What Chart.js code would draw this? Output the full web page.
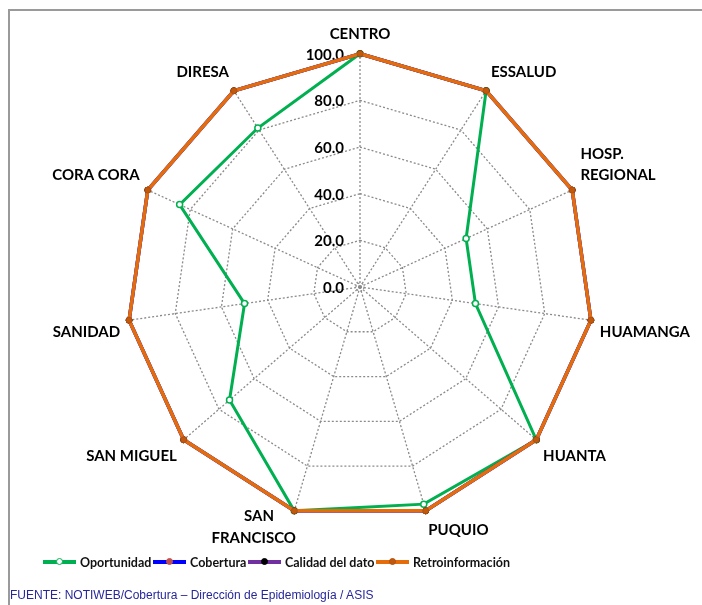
<!DOCTYPE html>
<html>
<head>
<meta charset="utf-8">
<script src="https://cdn.jsdelivr.net/npm/chart.js@4.4.1/dist/chart.umd.min.js"></script>
<style>
  body { margin: 0; background: #fff; width: 702px; height: 605px; overflow: hidden; position: relative; }
  #frame { position: absolute; left: 8px; top: 9px; width: 720px; height: 620px; border-top: 2px solid #9a9a9a; border-left: 2px solid #9a9a9a; }
  #wrap { position: absolute; left: 0; top: 0; width: 702px; height: 590px; }
  .leg { position: absolute; top: 553px; height: 18px; display: flex; align-items: center; font: bold 12.5px Lato, sans-serif; color: #111; white-space: nowrap; }
  .sw { position: relative; width: 33px; height: 4px; margin-right: 4px; }
  .sw i { position: absolute; left: 13px; top: -2px; width: 5px; height: 5px; border-radius: 50%; border: 1.5px solid; }
  #src { position: absolute; left: 10px; top: 588px; font: 12px "Liberation Sans", Arial, sans-serif; color: #27279a; white-space: nowrap; }
</style>
</head>
<body>
<div id="frame"></div>
<div id="wrap"><canvas id="radar"></canvas></div>
<div id="legend"></div>
<div id="src">FUENTE: NOTIWEB/Cobertura – Dirección de Epidemiología / ASIS</div>
<script>
const categorias = ['CENTRO', 'ESSALUD', ['HOSP.', 'REGIONAL'], 'HUAMANGA', 'HUANTA', 'PUQUIO',
  ['SAN      ', 'FRANCISCO'], 'SAN MIGUEL', 'SANIDAD', 'CORA CORA', 'DIRESA'];
const oportunidad = [100, 100, 50, 50, 100, 97, 100, 74, 50, 85, 81];
const cobertura = [100, 100, 100, 100, 100, 100, 100, 100, 100, 100, 100];
const calidadDato = [100, 100, 100, 100, 100, 100, 100, 100, 100, 100, 100];
const retroinformacion = [100, 100, 100, 100, 100, 100, 100, 100, 100, 100, 100];
const ticks = [0, 20, 40, 60, 80, 100];

const series = [
  { label: 'Oportunidad', data: oportunidad, color: '#00b050', dot: '#ffffff', dotBorder: '#00b050', left: 43 },
  { label: 'Cobertura', data: cobertura, color: '#0000ff', dot: '#c0504d', dotBorder: '#c0504d', left: 153 },
  { label: 'Calidad del dato', data: calidadDato, color: '#7030a0', dot: '#000000', dotBorder: '#000000', left: 248 },
  { label: 'Retroinformación', data: retroinformacion, color: '#e46c0a', dot: '#c0580e', dotBorder: '#b5500c', left: 376 }
];

// leyenda en html, como la del original
document.getElementById('legend').innerHTML = series.map(s => `
  <div class="leg" style="left:${s.left}px">
    <div class="sw" style="background:${s.color}"><i style="background:${s.dot};border-color:${s.dotBorder}"></i></div>
    <span>${s.label}</span>
  </div>`).join('');

// etiquetas de la escala a la izquierda del eje vertical
const tickLabels = {
  id: 'tickLabels',
  beforeDatasetsDraw(chart) {
    const r = chart.scales.r;
    const ctx = chart.ctx;
    ctx.save();
    const c = r.getPointPositionForValue(0, 0);
    ctx.setLineDash([2, 2]);
    ctx.strokeStyle = '#8a8a8a';
    ctx.lineWidth = 1.2;
    ctx.beginPath();
    ctx.arc(c.x, c.y, 4, 0, Math.PI * 2);
    ctx.stroke();
    ctx.setLineDash([]);
    ctx.font = 'bold 15px Lato, sans-serif';
    ctx.fillStyle = '#000';
    ctx.textAlign = 'right';
    ctx.textBaseline = 'middle';
    ticks.forEach(v => {
      const p = r.getPointPositionForValue(0, v);
      ctx.fillText(v.toFixed(1), p.x - 16, p.y + 1);
    });
    ctx.restore();
  }
};

new Chart(document.getElementById('radar'), {
  type: 'radar',
  data: {
    labels: categorias,
    datasets: series.map((s, i) => ({
      label: s.label,
      data: s.data,
      borderColor: s.color,
      borderWidth: i === 0 ? 3 : 3.5,
      backgroundColor: 'transparent',
      fill: false,
      pointRadius: 3,
      pointBorderWidth: i === 0 ? 1.5 : 1,
      pointBackgroundColor: s.dot,
      pointBorderColor: s.dotBorder,
      order: series.length - i
    }))
  },
  options: {
    responsive: true,
    maintainAspectRatio: false,
    animation: false,
    layout: { padding: { top: 6, bottom: 24, left: 42, right: 0 } },
    plugins: { legend: { display: false }, tooltip: { enabled: false } },
    elements: { line: { tension: 0 } },
    scales: {
      r: {
        min: 0,
        max: 100,
        ticks: { stepSize: 20, display: false },
        grid: { color: '#8a8a8a', lineWidth: 1.3 },
        border: { dash: [2, 2] },
        angleLines: { color: '#8a8a8a', lineWidth: 1.3, borderDash: [2, 2] },
        pointLabels: {
          color: '#000',
          padding: c => (c.index === 6 ? -6 : 9),
          font: { family: 'Lato', size: 15, weight: 'bold', lineHeight: 1.45 }
        }
      }
    }
  },
  plugins: [tickLabels]
});
</script>
</body>
</html>
